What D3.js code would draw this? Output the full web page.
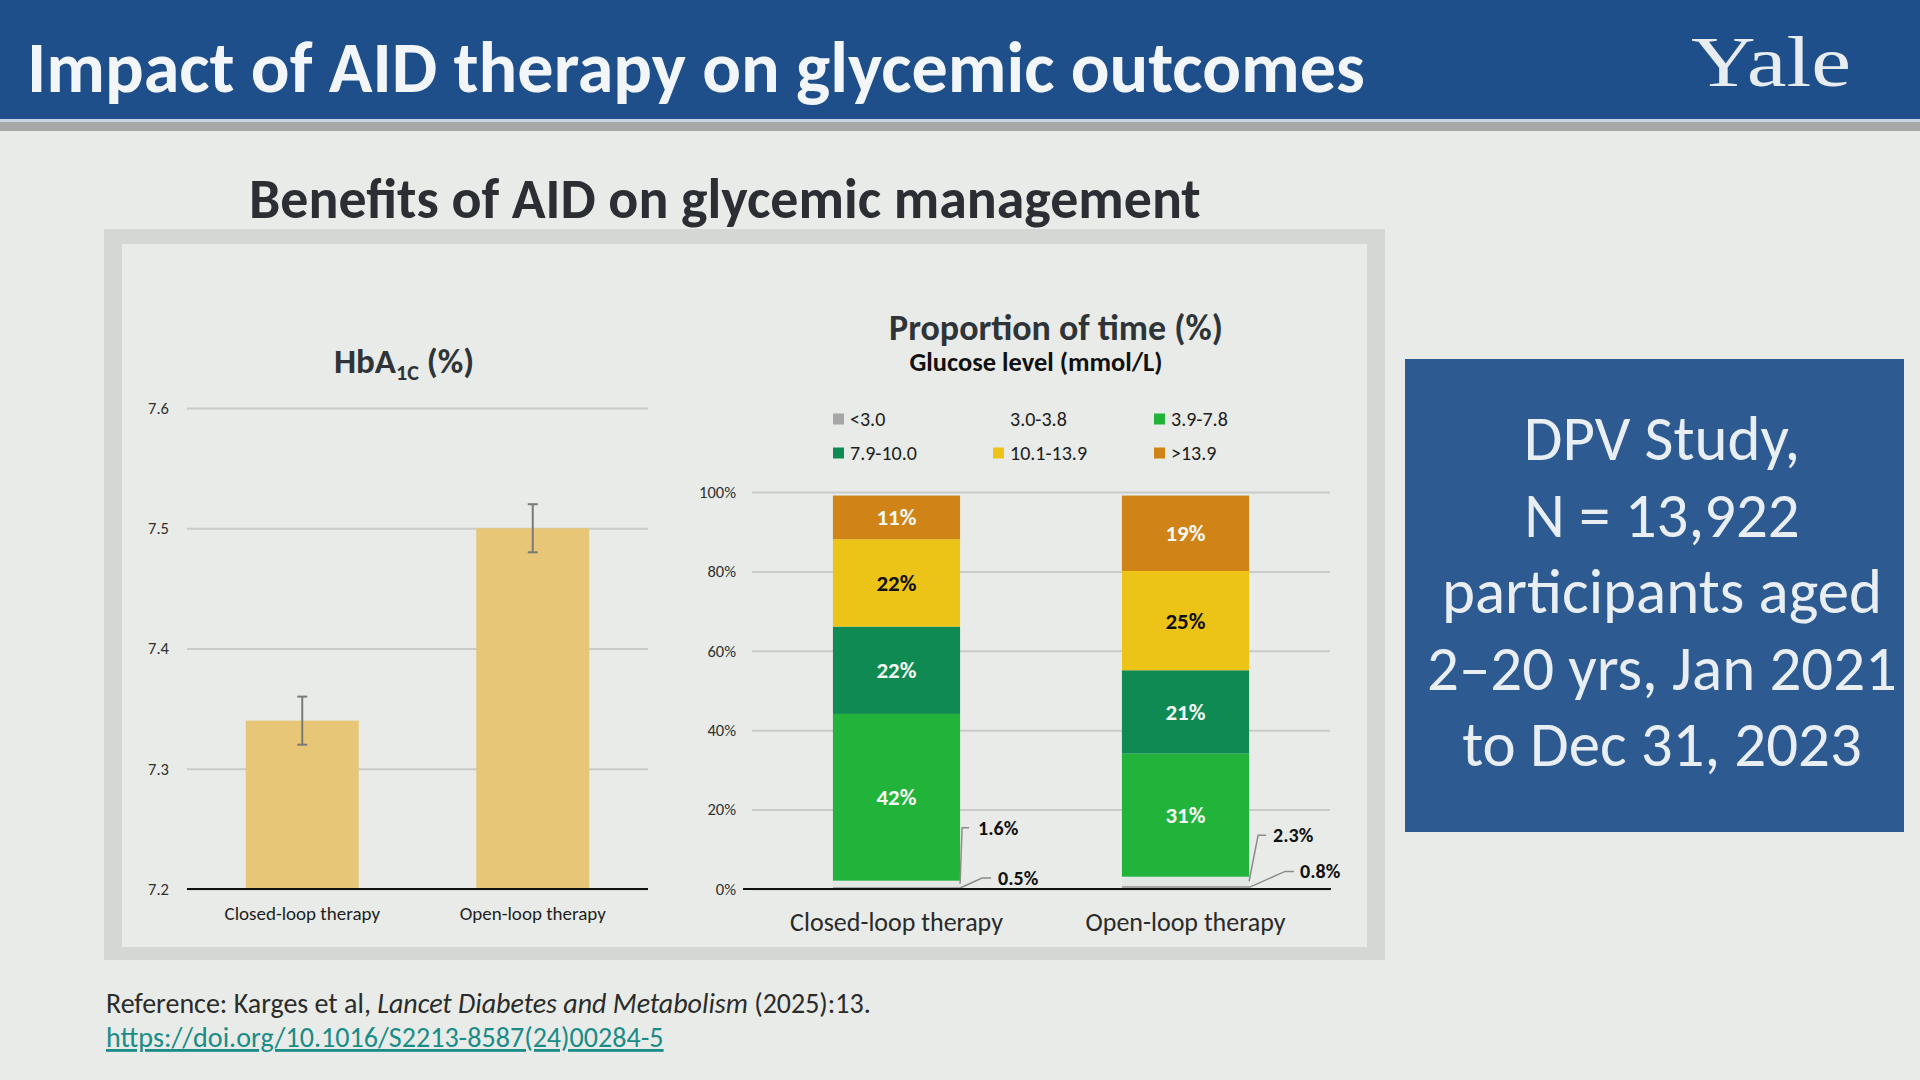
<!DOCTYPE html>
<html>
<head>
<meta charset="utf-8">
<title>Impact of AID therapy on glycemic outcomes</title>
<script src="https://cdn.jsdelivr.net/npm/d3@7"></script>
<style>
  html, body { margin: 0; padding: 0; background: #e8ebe7; overflow: hidden; }
  svg { display: block; }
</style>
</head>
<body>
<div id="slide"></div>
<script>
// ---- data ----
const groups = ['Closed-loop therapy', 'Open-loop therapy'];

const hba1cMean = [7.34, 7.50];
const hba1cLower = [7.32, 7.48];
const hba1cUpper = [7.36, 7.52];
const hba1cTicks = [7.2, 7.3, 7.4, 7.5, 7.6];

const glucoseRanges = ['<3.0', '3.0-3.8', '3.9-7.8', '7.9-10.0', '10.1-13.9', '>13.9'];
const closedLoopTime = [0.5, 1.6, 42, 22, 22, 11];
const openLoopTime = [0.8, 2.3, 31, 21, 25, 19];
const timeTicks = [0, 20, 40, 60, 80, 100];

const studyLines = ['DPV Study,', 'N = 13,922', 'participants aged', '2–20 yrs, Jan 2021', 'to Dec 31, 2023'];

// ---- page setup ----
const FONT = 'Carlito, Calibri, Lato, "Open Sans", sans-serif';
const W = 1920, H = 1080;

const svg = d3.select('#slide').append('svg')
    .attr('width', W)
    .attr('height', H)
    .style('font-family', FONT);

// scale a text's font-size so it spans the given width
function fitText(text, width) {
    const size = parseFloat(text.attr('font-size'));
    const len = text.node().getComputedTextLength();
    text.attr('font-size', size * width / len);
    return text;
}

svg.append('rect').attr('width', W).attr('height', H).attr('fill', '#e8ebe7');

// header band
svg.append('rect').attr('width', W).attr('height', 119).attr('fill', '#1f4f8a');
svg.append('rect').attr('y', 119).attr('width', W).attr('height', 3).attr('fill', '#c6d3e2');
svg.append('rect').attr('y', 122).attr('width', W).attr('height', 9).attr('fill', '#a5a8a6');

fitText(svg.append('text')
    .attr('x', 27).attr('y', 92)
    .attr('font-size', 64).attr('font-weight', 700)
    .attr('fill', '#f3f6f8')
    .text('Impact of AID therapy on glycemic outcomes'), 1338);

svg.append('text')
    .attr('x', 1691).attr('y', 86)
    .attr('font-size', 72)
    .attr('font-family', '"Liberation Serif", "DejaVu Serif", serif')
    .attr('textLength', 160).attr('lengthAdjust', 'spacingAndGlyphs')
    .attr('fill', '#e7ecf0')
    .text('Yale');

fitText(svg.append('text')
    .attr('x', 249).attr('y', 218)
    .attr('font-size', 48).attr('font-weight', 700)
    .attr('fill', '#2b2f33')
    .text('Benefits of AID on glycemic management'), 952);

// chart panel with its grey frame
svg.append('rect').attr('x', 104).attr('y', 229).attr('width', 1281).attr('height', 731).attr('fill', '#d4d7d3');
svg.append('rect').attr('x', 122).attr('y', 244).attr('width', 1245).attr('height', 703).attr('fill', '#e8ebe7');

// ---- HbA1c bar chart ----
function drawHba1c() {
    const left = 187, right = 648;
    const y = d3.scaleLinear().domain([7.2, 7.6]).range([889, 408]);
    const x = d3.scaleBand().domain(groups).range([left, right])
        .paddingInner(0.51).paddingOuter(0.255);

    const g = svg.append('g');

    const title = g.append('text')
        .attr('x', 404).attr('y', 373)
        .attr('text-anchor', 'middle')
        .attr('font-size', 35).attr('font-weight', 700)
        .attr('fill', '#2f3438');
    title.append('tspan').text('HbA');
    title.append('tspan').attr('font-size', 22).attr('dy', 7).text('1C');
    title.append('tspan').attr('dy', -7).text(' (%)');

    const yAxis = g.append('g')
        .attr('transform', `translate(${left},0)`)
        .call(d3.axisLeft(y).tickValues(hba1cTicks).tickSize(-(right - left))
            .tickPadding(18).tickFormat(d3.format('.1f')));
    yAxis.select('.domain').remove();
    yAxis.selectAll('line').attr('stroke', '#c8cbc7').attr('stroke-width', 2);
    yAxis.selectAll('text').attr('font-size', 16.5).attr('fill', '#303030').style('font-family', FONT);

    g.selectAll('.hb-bar')
        .data(groups)
        .join('rect')
        .attr('class', 'hb-bar')
        .attr('x', d => x(d))
        .attr('width', x.bandwidth())
        .attr('y', (d, i) => y(hba1cMean[i]))
        .attr('height', (d, i) => y(7.2) - y(hba1cMean[i]))
        .attr('fill', '#e7c777');

    // error bars
    const err = g.selectAll('.err').data(groups).join('g').attr('class', 'err')
        .attr('stroke', '#7a7a7a').attr('stroke-width', 2);
    const cx = d => x(d) + x.bandwidth() / 2;
    err.append('line')
        .attr('x1', cx).attr('x2', cx)
        .attr('y1', (d, i) => y(hba1cLower[i])).attr('y2', (d, i) => y(hba1cUpper[i]));
    err.append('line')
        .attr('x1', d => cx(d) - 5).attr('x2', d => cx(d) + 5)
        .attr('y1', (d, i) => y(hba1cLower[i])).attr('y2', (d, i) => y(hba1cLower[i]));
    err.append('line')
        .attr('x1', d => cx(d) - 5).attr('x2', d => cx(d) + 5)
        .attr('y1', (d, i) => y(hba1cUpper[i])).attr('y2', (d, i) => y(hba1cUpper[i]));

    g.append('line')
        .attr('x1', left).attr('x2', right)
        .attr('y1', y(7.2)).attr('y2', y(7.2))
        .attr('stroke', '#111').attr('stroke-width', 2);

    const xAxis = g.append('g')
        .attr('transform', `translate(0,${y(7.2)})`)
        .call(d3.axisBottom(x).tickSize(0).tickPadding(18));
    xAxis.select('.domain').remove();
    xAxis.selectAll('text').attr('font-size', 19).attr('fill', '#1e1e1e').style('font-family', FONT);
}

// ---- time in range stacked chart ----
function drawTimeInRange() {
    const left = 752, right = 1330;
    const y = d3.scaleLinear().domain([0, 100]).range([889, 492]);
    const x = d3.scaleBand().domain(groups).range([left, right])
        .paddingInner(0.56).paddingOuter(0.28);
    const color = d3.scaleOrdinal().domain(glucoseRanges)
        .range(['#a6a6a6', '#e3e7e3', '#22b33b', '#0f8a53', '#ecc417', '#d08316']);

    const g = svg.append('g');

    fitText(g.append('text')
        .attr('x', 1056).attr('y', 340)
        .attr('text-anchor', 'middle')
        .attr('font-size', 30).attr('font-weight', 700)
        .attr('fill', '#2f3438')
        .text('Proportion of time (%)'), 334);

    fitText(g.append('text')
        .attr('x', 1036).attr('y', 371)
        .attr('text-anchor', 'middle')
        .attr('font-size', 21).attr('font-weight', 700)
        .attr('fill', '#111')
        .text('Glucose level (mmol/L)'), 253);

    // legend, three per row
    const legendX = [833, 993, 1154], legendY = [419, 453];
    const item = g.selectAll('.legend-item')
        .data(glucoseRanges)
        .join('g')
        .attr('class', 'legend-item')
        .attr('transform', (d, i) => `translate(${legendX[i % 3]},${legendY[Math.floor(i / 3)]})`);
    item.append('rect')
        .attr('y', -5.5).attr('width', 11).attr('height', 11)
        .attr('fill', d => color(d) === '#e3e7e3' ? 'none' : color(d));
    item.append('text')
        .attr('x', 17).attr('dy', '0.35em')
        .attr('font-size', 20).attr('fill', '#202020')
        .text(d => d);

    const yAxis = g.append('g')
        .attr('transform', `translate(${left},0)`)
        .call(d3.axisLeft(y).tickValues(timeTicks).tickSize(-(right - left))
            .tickPadding(16).tickFormat(d => d + '%'));
    yAxis.select('.domain').remove();
    yAxis.selectAll('line').attr('stroke', '#c8cbc7').attr('stroke-width', 2);
    yAxis.selectAll('text').attr('font-size', 16.5).attr('fill', '#303030').style('font-family', FONT);

    const table = groups.map((grp, i) => {
        const row = {group: grp};
        const vals = i === 0 ? closedLoopTime : openLoopTime;
        glucoseRanges.forEach((r, j) => { row[r] = vals[j]; });
        return row;
    });
    const series = d3.stack().keys(glucoseRanges)(table);

    g.selectAll('.layer')
        .data(series)
        .join('g')
        .attr('class', 'layer')
        .attr('fill', d => color(d.key))
        .selectAll('rect')
        .data(d => d)
        .join('rect')
        .attr('x', d => x(d.data.group))
        .attr('width', x.bandwidth())
        .attr('y', d => y(d[1]))
        .attr('height', d => y(d[0]) - y(d[1]));

    // percentages inside the bigger segments
    const inside = [];
    series.forEach(s => s.forEach(d => {
        if (d[1] - d[0] >= 5) inside.push({key: s.key, d: d});
    }));
    g.selectAll('.seg-label')
        .data(inside)
        .join('text')
        .attr('class', 'seg-label')
        .attr('x', o => x(o.d.data.group) + x.bandwidth() / 2)
        .attr('y', o => y((o.d[0] + o.d[1]) / 2))
        .attr('dy', '0.35em')
        .attr('text-anchor', 'middle')
        .attr('font-size', 23).attr('font-weight', 700)
        .attr('fill', o => o.key === '10.1-13.9' ? '#111' : '#f2f8f2')
        .text(o => Math.round(o.d[1] - o.d[0]) + '%');

    // call-outs for the thin hypoglycaemia segments (offsets from bar edge)
    const callouts = [
        {bar: 0, seg: 1, bend: 2, end: 9, text: 18, dy: -56},
        {bar: 0, seg: 0, bend: 22, end: 31, text: 38, dy: -10},
        {bar: 1, seg: 1, bend: 9, end: 17, text: 24, dy: -46},
        {bar: 1, seg: 0, bend: 36, end: 45, text: 51, dy: -16}
    ];
    callouts.forEach(c => {
        const d = series[c.seg][c.bar];
        const x0 = x(d.data.group) + x.bandwidth();
        const y0 = y((d[0] + d[1]) / 2);
        const y1 = y0 + c.dy;
        g.append('path')
            .attr('d', d3.line()([[x0, y0], [x0 + c.bend, y1], [x0 + c.end, y1]]))
            .attr('fill', 'none')
            .attr('stroke', '#8c8c8c').attr('stroke-width', 1.5);
        g.append('text')
            .attr('x', x0 + c.text).attr('y', y1)
            .attr('dy', '0.35em')
            .attr('font-size', 20).attr('font-weight', 700)
            .attr('fill', '#111')
            .text(d3.format('.1f')(d[1] - d[0]) + '%');
    });

    g.append('line')
        .attr('x1', 743).attr('x2', 1331)
        .attr('y1', y(0)).attr('y2', y(0))
        .attr('stroke', '#111').attr('stroke-width', 2);

    const xAxis = g.append('g')
        .attr('transform', `translate(0,${y(0)})`)
        .call(d3.axisBottom(x).tickSize(0).tickPadding(24));
    xAxis.select('.domain').remove();
    xAxis.selectAll('text').attr('font-size', 26).attr('fill', '#2a2a2a').style('font-family', FONT);
}

drawHba1c();
drawTimeInRange();

// ---- study box ----
svg.append('rect').attr('x', 1405).attr('y', 359).attr('width', 499).attr('height', 473).attr('fill', '#2c5a91');
const boxText = svg.append('g').selectAll('text')
    .data(studyLines)
    .join('text')
    .attr('x', 1662)
    .attr('y', (d, i) => 460 + i * 76.5)
    .attr('text-anchor', 'middle')
    .attr('font-size', 60)
    .attr('fill', '#e9eef3')
    .text(d => d);
const widest = d3.max(boxText.nodes(), n => n.getComputedTextLength());
boxText.attr('font-size', 60 * 470 / widest);

// ---- reference ----
const ref = svg.append('text')
    .attr('x', 106).attr('y', 1013)
    .attr('font-size', 25).attr('fill', '#2b2b2b');
ref.append('tspan').text('Reference: Karges et al, ');
ref.append('tspan').attr('font-style', 'italic').text('Lancet Diabetes and Metabolism');
ref.append('tspan').text(' (2025):13.');
fitText(ref, 765);

fitText(svg.append('text')
    .attr('x', 106).attr('y', 1047)
    .attr('font-size', 25).attr('fill', '#1a8c87')
    .attr('text-decoration', 'underline')
    .text('https://doi.org/10.1016/S2213-8587(24)00284-5'), 558);
</script>
</body>
</html>
